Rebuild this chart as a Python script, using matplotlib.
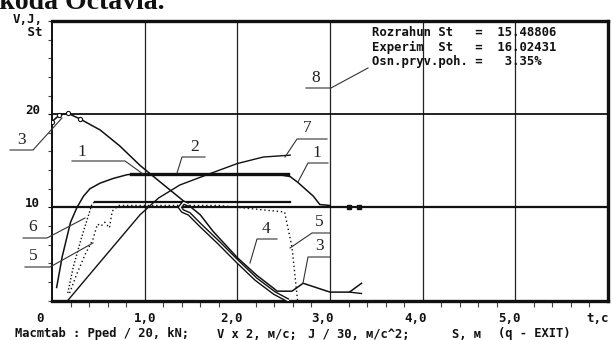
import matplotlib
matplotlib.use("Agg")
import matplotlib.pyplot as plt
import matplotlib.transforms as mtransforms
from matplotlib.lines import Line2D
import numpy as np

W, H = 613, 340
INK = "#111111"

# curve 1: force, rises then holds, drops after 2.55 s
t1 = [0.05, 0.11, 0.20, 0.27, 0.34, 0.41, 0.52, 0.66, 0.81, 0.90, 1.2, 1.6, 2.0, 2.4, 2.57, 2.65, 2.82, 2.89, 3.0]
y1 = [1.4, 4.7, 8.4, 10.0, 11.2, 12.0, 12.6, 13.1, 13.5, 13.6, 13.6, 13.6, 13.6, 13.6, 13.3, 12.7, 11.2, 10.3, 10.2]
t1_tail = [3.2, 3.31]
y1_tail = [10.0, 10.0]

# curve 2: computed force level
t2 = [0.85, 2.55]
y2 = [13.6, 13.6]

# curve 3: speed
t3 = [0.0, 0.08, 0.17, 0.30, 0.52, 0.73, 0.95, 1.17, 1.38, 1.60, 1.74, 2.0, 2.21, 2.38, 2.43, 2.59, 2.71, 3.0, 3.21, 3.34]
y3 = [19.2, 19.9, 20.1, 19.5, 18.3, 16.6, 14.5, 12.7, 11.0, 9.2, 7.4, 4.6, 2.7, 1.4, 1.0, 1.0, 1.85, 0.9, 0.9, 1.85]
t3_branch = [3.21, 3.34]
y3_branch = [0.9, 0.75]

# curve 4: second speed trace (double line)
t4 = [1.47, 1.42, 1.38, 1.41, 1.48, 1.60, 1.80, 2.0, 2.2, 2.4, 2.55]
y4 = [10.3, 10.5, 10.0, 9.6, 9.3, 8.1, 6.2, 4.2, 2.3, 0.8, 0.0]

# curve 5: deceleration (dotted)
t5 = [0.19, 0.27, 0.36, 0.44, 0.49, 0.53, 0.57, 0.62, 0.65, 0.72, 1.2, 1.8, 2.51, 2.59, 2.65]
y5 = [0.8, 2.9, 5.0, 6.5, 8.2, 8.0, 8.4, 7.8, 9.6, 10.2, 10.2, 10.2, 9.5, 5.7, 0.0]

# curve 6: pedal force, rise then plateau
t6 = [0.17, 0.23, 0.32, 0.43, 0.46, 1.0, 1.5, 2.0, 2.57]
y6 = [0.8, 3.6, 6.8, 10.3, 10.6, 10.6, 10.6, 10.6, 10.6]

# curve 7: distance
t7 = [0.17, 0.5, 0.95, 1.15, 1.38, 1.7, 2.0, 2.28, 2.57]
y7 = [0.0, 3.9, 9.2, 11.0, 12.4, 13.6, 14.7, 15.4, 15.6]

xtick_vals = [0, 1, 2, 3, 4, 5, 6]
xtick_text = ["0", "1,0", "2,0", "3,0", "4,0", "5,0", "t,c"]
ytick_vals = [10, 20]
ytick_text = ["10", "20"]

result_lines = ["Rozrahun St   =  15.48806",
                "Experim  St   =  16.02431",
                "Osn.pryv.poh. =   3.35%"]
# scale legend under the axis, pieces with their left edge in pixels
scale_parts = [("Macmtab : Pped / 20, kN;", 15),
               ("V x 2, м/c;", 217),
               ("J / 30, м/c^2;", 308),
               ("S, м", 452),
               ("(q - EXIT)", 498)]

fig = plt.figure(figsize=(W / 100, H / 100), dpi=100)
ax = fig.add_axes([52 / W, (H - 300.5) / H, 556 / W, 279.5 / H])
ax.set_xlim(0, 6)
ax.set_ylim(0, 30)

mono = dict(family="DejaVu Sans Mono", weight="bold", color=INK)

# frame
for side, lw in [("top", 2.4), ("bottom", 2.4), ("right", 2.4), ("left", 1.4)]:
    ax.spines[side].set_linewidth(lw)
    ax.spines[side].set_color(INK)

# grid
for x in range(1, 6):
    ax.axvline(x, color="#222222", lw=0.9, zorder=1)
ax.axhline(10, color=INK, lw=1.6, zorder=1)
ax.axhline(20, color=INK, lw=1.3, zorder=1)

# ticks
ax.set_xticks(xtick_vals)
ax.set_xticklabels(xtick_text, fontsize=9, **mono)
ax.set_xticks(np.arange(0, 6.01, 0.2), minor=True)
ax.tick_params(axis="x", which="major", length=0, pad=8)
ax.tick_params(axis="x", which="minor", length=4, width=0.8, direction="out", color="#444444")
x_shift = [-12, 0, -6, -7, -7, -6, -10]
for lab, dx in zip(ax.get_xticklabels(), x_shift):
    lab.set_transform(lab.get_transform() + mtransforms.ScaledTranslation(dx / 100, 0, fig.dpi_scale_trans))

ax.set_yticks(ytick_vals)
ax.set_yticklabels(ytick_text, fontsize=9, **mono)
ax.set_yticks(np.arange(0, 30.01, 2), minor=True)
ax.tick_params(axis="y", which="major", length=3, width=0.8, pad=5.5)
ax.tick_params(axis="y", which="minor", length=3, width=0.8, direction="out", color="#444444")
for lab in ax.get_yticklabels():
    lab.set_transform(lab.get_transform() + mtransforms.ScaledTranslation(0, 5 / 100, fig.dpi_scale_trans))

# curves
ax.plot(t7, y7, color=INK, lw=1.0, zorder=3)
ax.plot(t6[:5], y6[:5], color=INK, lw=1.0, ls=(0, (1, 1.5)), zorder=3)
ax.plot(t6[4:], y6[4:], color=INK, lw=1.6, zorder=3)
ax.plot(t5, y5, color=INK, lw=1.0, ls=(0, (1, 2)), zorder=3)
ax.plot(t1, y1, color=INK, lw=1.1, zorder=3)
ax.plot(t1_tail, y1_tail, color=INK, ls="none", marker="s", ms=2.5, zorder=3)
ax.plot(t2, y2, color=INK, lw=2.4, zorder=4)
ax.plot(t3, y3, color=INK, lw=1.1, zorder=3)
ax.plot(t3_branch, y3_branch, color=INK, lw=1.0, zorder=3)
ax.plot(t3[:4], y3[:4], color=INK, ls="none", marker="o", ms=3, mfc="white", mew=0.8, zorder=4)
ax.plot(t4, y4, color=INK, lw=3.0, zorder=3, solid_capstyle="butt")
ax.plot(t4, y4, color="white", lw=1.0, zorder=3.5)

# results block
for i, line in enumerate(result_lines):
    fig.text(372 / W, 1 - (33 + 14.5 * i) / H, line, fontsize=8.8, va="center", ha="left", **mono)

fig.text(43 / W, 1 - 26 / H, "V,J,\n St", fontsize=9, va="center", ha="right",
         linespacing=1.0, **mono)
for txt, x0 in scale_parts:
    fig.text(x0 / W, 1 - 334 / H, txt, fontsize=8.7, va="center", ha="left", **mono)

# cropped document heading above the chart
fig.text(-16 / W, 1 - 9 / H, "Skoda Octavia.", fontsize=20, family="Liberation Serif",
         weight="bold", va="baseline", ha="left", color=INK)

# numbered callouts with leader lines (pixel positions)
callouts = [
    ("3", (21, 140), [(10, 150), (33, 150), (62, 118)]),
    ("1", (82, 152), [(72, 161), (125, 161), (143, 174)]),
    ("2", (195, 147), [(205, 157), (182, 157), (177, 173)]),
    ("7", (307, 128), [(327, 139), (297, 139), (285, 157)]),
    ("1", (317, 153), [(328, 163), (308, 163), (298, 182)]),
    ("8", (316, 78), [(306, 88), (331, 88), (368, 68)]),
    ("6", (33, 227), [(23, 238), (47, 238), (85, 218)]),
    ("5", (33, 256), [(25, 267), (50, 267), (93, 243)]),
    ("4", (266, 229), [(277, 239), (257, 239), (250, 263)]),
    ("5", (319, 222), [(330, 233), (312, 233), (290, 248)]),
    ("3", (320, 246), [(330, 257), (308, 257), (303, 283)]),
]
for label, (tx, ty), pts in callouts:
    xs = [p[0] / W for p in pts]
    ys = [1 - p[1] / H for p in pts]
    fig.add_artist(Line2D(xs, ys, color="#333333", lw=0.8, transform=fig.transFigure, zorder=5))
    fig.text(tx / W, 1 - ty / H, label, fontsize=12.5, family="Liberation Serif",
             ha="center", va="center", color="#222222", zorder=6)

fig.savefig("out.png", dpi=100)
